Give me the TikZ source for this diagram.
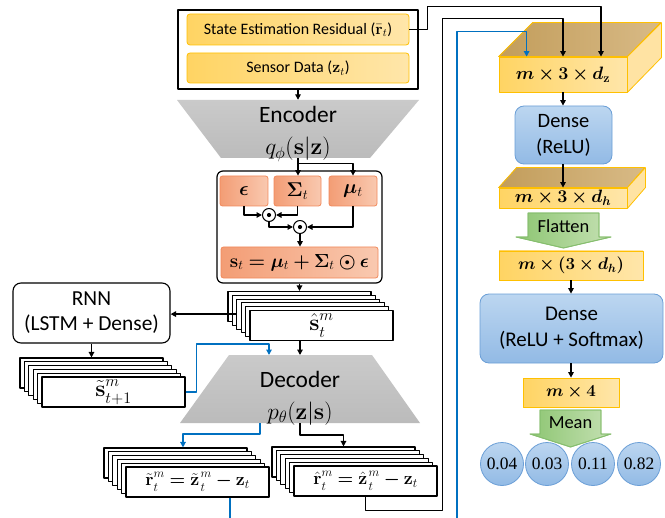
\RequirePackage{fix-cm}
\documentclass[tikz,border=0pt]{standalone}
\usepackage{amsmath}
\usepackage{bm}
\usepackage[no-math]{fontspec}
\setmainfont{Carlito}
\newfontfamily\numfont{Liberation Serif}
\usetikzlibrary{arrows.meta,calc}
\definecolor{ylwL}{HTML}{FFD463}
\definecolor{ylwR}{HTML}{FFE6AA}
\definecolor{ylwB}{HTML}{FFC000}
\definecolor{tanL}{HTML}{C29D5B}
\definecolor{tanR}{HTML}{D8BA86}
\definecolor{sideY}{HTML}{FFE3A3}
\definecolor{salL}{HTML}{F39D75}
\definecolor{salR}{HTML}{F9C9B0}
\definecolor{salB}{HTML}{F1885A}
\definecolor{bluT}{HTML}{BCD6F0}
\definecolor{bluBt}{HTML}{92BAE5}
\definecolor{bluB}{HTML}{6A9ED6}
\definecolor{grnL}{HTML}{8EC673}
\definecolor{grnR}{HTML}{C4E0B2}
\definecolor{grnB}{HTML}{86BE6E}
\definecolor{lineblue}{HTML}{0070C0}
\definecolor{grayT}{HTML}{CACACA}
\definecolor{grayB}{HTML}{BBBBBB}
\newcommand\fs[2]{\fontsize{#1}{#2}\selectfont}
% base with superscript m and subscript #2, spread apart a little
\newcommand\msub[2]{#1^{\raisebox{1.6bp}{$\scriptstyle m$}}_{\raisebox{-1.6bp}{$\scriptstyle #2$}}}
\newcommand\msubk[2]{{#1}\kern1.2bp{}^{\raisebox{1.6bp}{$\scriptstyle m$}}_{\raisebox{-1.6bp}{$\scriptstyle #2$}}}
\newcommand\mkstack[5]{%
  \foreach \i in {0,...,4}{\node[stk] (#1\i) at ($(#2,#3)+\i*(4.4,3.8)$) {};}
  \node[stk, font=\fs{#5}{#5}] (#1) at ($(#2,#3)+(22,19)$) {#4};}
\tikzset{
  arr/.style={-{Triangle[length=5.5bp,width=5.5bp]}},
  ln/.style={line width=1.3bp},
  blu/.style={draw=lineblue, line width=1.3bp},
  ybox/.style={rounded corners=3bp, draw=ylwB, line width=0.8bp, left color=ylwL, right color=ylwR, inner sep=0},
  yflat/.style={draw=ylwB, line width=0.8bp, left color=ylwL, right color=ylwR, inner sep=0},
  tanface/.style={draw=ylwB, line width=0.8bp, left color=tanL, right color=tanR},
  sideface/.style={draw=ylwB, line width=0.8bp, fill=sideY},
  sbox/.style={rounded corners=2.5bp, draw=salB, line width=0.8bp, left color=salL, right color=salR, inner sep=0},
  stk/.style={draw, fill=white, line width=1.1bp, minimum width=143bp, minimum height=30bp, inner sep=0},
  bluebox/.style={rounded corners=9bp, draw=bluB, top color=bluT, bottom color=bluBt, inner sep=0, line width=0.8bp, align=center},
  circ/.style={circle, draw=bluB, top color=bluT, bottom color=bluBt, inner sep=0, line width=0.8bp, minimum size=43bp, font=\fs{17.5}{20}\numfont},
  grn/.style={draw=grnB, line width=0.8bp, left color=grnL, right color=grnR},
  odot/.style={circle, draw, fill=white, minimum size=13bp, inner sep=0, line width=1bp},
}
\begin{document}
\begin{tikzpicture}[x=1bp,y=-1bp,line join=round]
\useasboundingbox (0,0) rectangle (665,518);
% ---------- input ----------
\node[draw, line width=1.2bp, minimum width=240bp, minimum height=79bp, inner sep=0] (inp) at (298,49.5) {};
\node[ybox, minimum width=222bp, minimum height=31bp, font=\fs{16}{19}] (res) at (298,29.5) {State Estimation Residual ($\bar{\mathbf{r}}_t$)};
\node[ybox, minimum width=222bp, minimum height=30bp, font=\fs{16}{19}] (sens) at (298,68) {Sensor Data ($\mathbf{z}_t$)};
% ---------- encoder ----------
\shade[top color=grayT, bottom color=grayB] (177,100) -- (419,100) -- (370,158) -- (221,158) -- cycle;
\node[minimum width=149bp, minimum height=58bp, inner sep=0] (enc) at (298,129) {};
\node[align=center, font=\fs{23.5}{32}] (enctxt) at (298,134) {Encoder\\$q_\phi(\mathbf{s}|\mathbf{z})$};
\draw[ln,arr] (inp.south) -- (enc.north);
% ---------- reparametrisation ----------
\node[draw, rounded corners=6bp, line width=1.2bp, minimum width=165bp, minimum height=112bp] (vae) at (299.5,227) {};
\node[sbox, minimum width=48bp, minimum height=30bp, font=\fs{20}{22}] (eps) at (244,191) {$\bm{\epsilon}$};
\node[sbox, minimum width=47bp, minimum height=30bp, font=\fs{20}{22}] (sig) at (297.5,191) {$\bm{\Sigma}_t$};
\node[sbox, minimum width=48bp, minimum height=30bp, font=\fs{20}{22}] (mu) at (353,191) {$\bm{\mu}_t$};
\node[odot] (o1) at (269,215) {};
\node[odot] (o2) at (300,227) {};
\fill (o1) circle (2.1bp);
\fill (o2) circle (2.1bp);
\node[sbox, minimum width=157bp, minimum height=31bp, font=\fs{19}{22}] (sst) at (299.5,262.5) {$\mathbf{s}_t\bm{=}\bm{\mu}_t\bm{+}\bm{\Sigma}_t\bm{\odot}\bm{\epsilon}$};
\draw[ln,arr] (enc.south) -- (enc.south |- sig.north);
\draw[ln,arr] ($(enc.south)+(0,5)$) -| (mu.north);
\draw[ln,arr] (eps.south) |- (o1.west);
\draw[ln,arr] (sig.south) |- (o1.east);
\draw[ln,arr] (o1.south) |- (o2.west);
\draw[ln,arr] (mu.south) |- (o2.east);
\draw[ln,arr] (o2.south) -- (o2.south |- sst.north);
% ---------- latent stacks ----------
\mkstack{sh}{299.5}{306.5}{$\msub{\hat{\mathbf{s}}}{t}$}{23}
\draw[ln,arr] (vae.south) -- (vae.south |- sh0.north);
\node[draw, rounded corners=8bp, line width=1.1bp, minimum width=157bp, minimum height=60bp, align=center, font=\fs{21.5}{25}] (rnn) at (91.5,313) {RNN\\(LSTM + Dense)};
\draw[ln,arr] (sh2.west) -- (sh2.west -| rnn.east);
\mkstack{sn}{91.5}{373}{$\msub{\tilde{\mathbf{s}}}{t+1}$}{23}
\draw[ln,arr] (rnn.south) -- (sn0.north);
% ---------- decoder ----------
\shade[top color=grayT, bottom color=grayB] (229,355) -- (372,355) -- (420,423) -- (180,423) -- cycle;
\coordinate (dtop) at (300,355);
\coordinate (dbot) at (300,423);
\node[align=center, font=\fs{23.5}{32}] (dectxt) at (300,398) {Decoder\\$p_\theta(\mathbf{z}|\mathbf{s})$};
\draw[ln,arr] (dtop |- sh.south) -- (dtop);
\draw[blu,arr] (sn.east) -- ++(11,0) |- ($(dtop)+(-31,-11)$) -- ($(dtop)+(-31,0)$);
\mkstack{rt}{175.5}{463}{$\msub{\tilde{\mathbf{r}}}{t}\bm{=}\msubk{\tilde{\mathbf{z}}}{t}\bm{-}\mathbf{z}_t$}{18}
\mkstack{rh}{343.5}{462}{$\msub{\hat{\mathbf{r}}}{t}\bm{=}\msubk{\hat{\mathbf{z}}}{t}\bm{-}\mathbf{z}_t$}{18}
\draw[ln,arr] (dbot) -- ++(0,12) -| (rh0.north);
\draw[blu,arr] ($(dbot)+(-40,0)$) -- ++(0,11) -| ($(rt0.north)+(7.5,0)$);
% ---------- right column ----------
\node[yflat, minimum width=128bp, minimum height=35bp, font=\fs{18}{20}] (b1) at (563,74.5) {$\bm{m}\bm{\times}\mathbf{3}\bm{\times}\bm{d}_{\mathbf{z}}$};
\filldraw[tanface] (b1.north west) -- ++(34,-34) -- ++(128,0) -- (b1.north east) -- cycle;
\filldraw[sideface] (b1.north east) -- ++(34,-34) -- ++(0,35) -- (b1.south east) -- cycle;
\node[bluebox, minimum width=97bp, minimum height=58bp, font=\fs{20.5}{26}] (d1) at (563.5,135) {Dense\\(ReLU)};
\draw[ln,arr] (b1.south) -- (b1.south |- d1.north);
\node[yflat, minimum width=128bp, minimum height=20bp, font=\fs{18}{20}] (b2) at (563,198) {$\bm{m}\bm{\times}\mathbf{3}\bm{\times}\bm{d}_{\bm{h}}$};
\filldraw[tanface] (b2.north west) -- ++(18,-20) -- ++(128,0) -- (b2.north east) -- cycle;
\filldraw[sideface] (b2.north east) -- ++(18,-20) -- ++(0,20) -- (b2.south east) -- cycle;
\draw[ln,arr] (d1.south -| b2.north) -- (b2.north);
\shade[grn] (528,213) -- (599,213) -- (599,237) -- (611,237) -- (563.5,248) -- (516,237) -- (528,237) -- cycle;
\draw[grnB, line width=0.8bp] (528,213) -- (599,213) -- (599,237) -- (611,237) -- (563.5,248) -- (516,237) -- (528,237) -- cycle;
\node[font=\fs{18.5}{20}] (flat) at (563.5,226) {Flatten};
\node[yflat, minimum width=144bp, minimum height=29bp, font=\fs{17}{20}] (b3) at (571,265.5) {$\bm{m}\bm{\times}\bm{(}\mathbf{3}\bm{\times}\bm{d}_{\bm{h}}\bm{)}$};
\node[bluebox, minimum width=183bp, minimum height=69bp, font=\fs{21}{26}] (d2) at (571.5,328.5) {Dense\\(ReLU + Softmax)};
\draw[ln,arr] (b3.south) -- (b3.south |- d2.north);
\node[yflat, minimum width=96bp, minimum height=29bp, font=\fs{17}{20}] (b4) at (571,392.5) {$\bm{m}\bm{\times}\mathbf{4}$};
\draw[ln,arr] (d2.south -| b4.north) -- (b4.north);
\node[circ] (c1) at (502,464) {0.04};
\node[circ] (c2) at (547,464) {0.03};
\node[circ] (c3) at (593,464) {0.11};
\node[circ] (c4) at (639,464) {0.82};
\shade[grn] (540,410) -- (601,410) -- (601,434) -- (611,434) -- (570.5,447) -- (530,434) -- (540,434) -- cycle;
\draw[grnB, line width=0.8bp] (540,410) -- (601,410) -- (601,434) -- (611,434) -- (570.5,447) -- (530,434) -- (540,434) -- cycle;
\node[font=\fs{18.5}{20}] (mean) at (570.5,423) {Mean};
% ---------- long connectors ----------
\coordinate (botL) at (230,518);
\coordinate (botR) at (457,518);
\draw[blu] (rt.south -| botL) -- (botL);
\draw[ln,arr] (res.east) -- ++(18,0) |- ($(b1.north)+(38,-50)$) -- ($(b1.north)+(38,0)$);
\draw[ln,arr] (rh.south) -- ++(0,14) -- ++(77,0) |- ($(b1.north)+(0,-38)$) -- (b1.north);
\draw[blu,arr] (botR) |- ($(b1.north west)+(28,-25)$) -- ($(b1.north west)+(28,0)$);
\end{tikzpicture}
\end{document}
